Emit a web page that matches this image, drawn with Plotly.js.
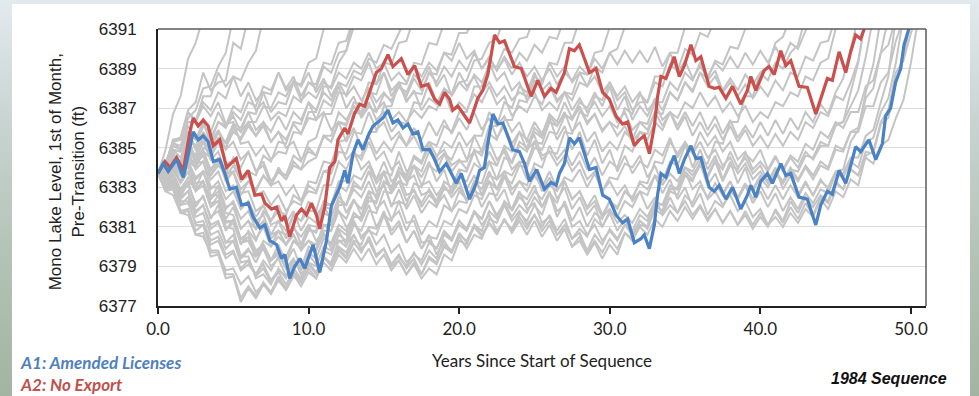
<!DOCTYPE html>
<html><head><meta charset="utf-8">
<script src="https://cdn.plot.ly/plotly-3.0.1.min.js"></script>
<style>
html,body{margin:0;padding:0;width:979px;height:396px;overflow:hidden;
background:linear-gradient(to bottom,#e3eaee 0%,#c9d4d2 30%,#b0c0b2 70%,#a3b4a2 100%);}
#card{position:absolute;left:12px;top:4px;width:958px;height:392px;background:#fff;}
#chart{position:absolute;left:0;top:0;width:958px;height:392px;}
</style></head>
<body><div id="card"><div id="chart"></div></div>
<script>
// ---- data ----
const grayYears = [0,0.5,1,1.5,2,2.5,3,3.5,4,4.5,5,5.5,6,6.5,7,7.5,8,8.5,9,9.5,10,10.5,11,11.5,12,12.5,13,13.5,14,14.5,15,15.5,16,16.5,17,17.5,18,18.5,19,19.5,20,20.5,21,21.5,22,22.5,23,23.5,24,24.5,25,25.5,26,26.5,27,27.5,28,28.5,29,29.5,30,30.5,31,31.5,32,32.5,33,33.5,34,34.5,35,35.5,36,36.5,37,37.5,38,38.5,39,39.5,40,40.5,41,41.5,42,42.5,43,43.5,44,44.5,45,45.5,46,46.5,47,47.5,48,48.5,49,49.5,50,50.5];

const g01 = [6383.7,6382.9,6383.0,6381.8,6381.9,6380.6,6380.7,6379.5,6379.6,6378.4,6378.5,6377.2,6377.9,6377.4,6378.1,6377.6,6378.3,6377.8,6378.5,6378.2,6379.2,6379.0,6380.0,6379.8,6380.9,6380.6,6381.7,6381.4,6382.5,6382.2,6383.3,6383.0,6384.0,6383.6,6384.6,6384.3,6385.3,6384.6,6384.9,6384.1,6384.4,6383.9,6384.9,6384.6,6385.7,6385.4,6386.4,6386.4,6387.4,6387.3,6388.4,6388.2,6389.3,6389.2,6390.3,6390.3,6391.5];
const g02 = [6383.7,6382.9,6383.1,6382.1,6382.2,6381.2,6381.3,6380.3,6380.5,6379.6,6379.8,6378.9,6379.3,6378.5,6378.9,6378.2,6378.7,6378.1,6378.7,6378.2,6378.9,6378.4,6379.2,6378.8,6379.6,6379.2,6379.9,6379.3,6379.9,6379.1,6379.6,6378.8,6379.3,6378.6,6379.2,6378.6,6379.4,6379.1,6380.0,6379.7,6380.7,6380.2,6381.0,6380.5,6381.2,6380.7,6381.4,6380.7,6381.3,6380.6,6381.3,6380.5,6381.1,6380.3,6380.9,6380.0,6380.5,6379.7,6380.3,6379.7,6380.4,6379.9,6380.7,6380.3,6381.0,6380.6,6381.4,6381.0,6381.8,6381.3,6382.0,6381.4,6382.0,6381.3,6381.9,6381.2,6381.8,6381.1,6381.8,6381.1,6381.7,6381.1,6381.8,6381.2,6382.0,6381.4,6382.2,6381.6,6382.5,6382.2,6383.2,6382.9,6383.9,6383.6,6384.8,6384.7,6386.2,6386.5,6388.3,6389.5,6391.5];
const g03 = [6383.7,6383.0,6383.2,6382.3,6382.3,6381.1,6381.1,6379.8,6379.8,6378.6,6378.6,6377.4,6378.0,6377.5,6378.2,6377.7,6378.5,6377.9,6378.6,6378.0,6378.7,6378.4,6379.4,6379.2,6380.3,6380.3,6381.5,6381.5,6382.8,6382.6,6383.8,6383.6,6384.8,6383.8,6384.1,6383.1,6383.3,6382.6,6383.1,6382.5,6383.0,6382.3,6382.8,6382.6,6383.6,6383.4,6384.5,6384.3,6385.3,6385.0,6386.0,6385.6,6386.7,6386.3,6387.3,6386.5,6387.0,6386.2,6386.7,6385.8,6386.3,6386.0,6387.0,6386.7,6387.7,6387.3,6388.3,6388.1,6389.2,6388.9,6390.0,6389.7,6390.8,6390.6,6391.5];
const g04 = [6383.7,6383.7,6384.6,6384.3,6385.3,6384.2,6384.3,6383.0,6383.0,6381.7,6381.6,6380.4,6380.3,6379.5,6379.9,6379.0,6379.4,6378.5,6378.9,6378.4,6379.2,6378.7,6379.5,6379.1,6380.0,6379.7,6380.6,6379.8,6380.3,6379.5,6379.9,6379.1,6379.6,6378.9,6379.4,6378.6,6379.5,6379.2,6380.1,6379.8,6380.6,6380.3,6381.1,6380.6,6381.2,6380.6,6381.4,6380.8,6381.5,6380.9,6381.6,6381.0,6381.6,6380.8,6381.4,6380.4,6380.7,6379.8,6380.6,6380.1,6380.9,6380.4,6381.1,6380.8,6381.6,6381.3,6382.1,6381.8,6382.9,6382.9,6383.8,6383.4,6384.1,6383.6,6384.4,6383.9,6384.8,6384.0,6384.5,6383.7,6384.1,6383.3,6383.8,6383.3,6384.0,6383.4,6384.1,6383.6,6384.3,6384.0,6385.1,6384.9,6385.8,6385.8,6387.1,6387.1,6388.3,6388.8,6390.4,6391.5];
const g05 = [6383.7,6384.9,6386.7,6387.6,6389.5,6390.3,6391.6];
const g06 = [6383.7,6384.2,6385.3,6385.5,6386.9,6387.3,6388.8,6387.9,6388.3,6388.4,6390.3,6390.0,6391.6];
const g07 = [6383.7,6384.0,6385.4,6385.4,6386.8,6386.3,6387.1,6386.6,6387.3,6386.2,6386.3,6385.2,6385.3,6384.6,6385.1,6384.4,6384.8,6384.7,6385.8,6385.7,6386.8,6386.8,6388.1,6388.1,6389.3,6389.9,6391.6];
const g08 = [6383.7,6383.5,6384.2,6383.6,6384.3,6383.2,6383.3,6382.2,6382.3,6381.2,6381.3,6380.2,6380.3,6379.6,6380.1,6379.3,6379.8,6379.5,6380.3,6379.9,6380.8,6380.8,6382.1,6382.1,6383.3,6383.3,6384.6,6384.6,6385.8,6385.8,6387.1,6387.1,6388.3,6388.2,6389.3,6389.2,6390.3,6390.2,6391.3,6391.6];
const g09 = [6383.7,6383.1,6383.4,6382.5,6382.8,6381.8,6382.1,6381.1,6381.3,6380.2,6380.3,6379.2,6379.3,6378.6,6379.1,6378.3,6378.8,6378.5,6379.3,6378.9,6379.8,6379.8,6381.1,6381.1,6382.3,6382.1,6383.1,6382.9,6383.8,6382.8,6383.1,6382.1,6382.3,6381.2,6381.3,6380.2,6380.3,6379.9,6380.7,6380.3,6381.1,6380.8,6381.7,6381.4,6382.3,6381.6,6382.2,6381.5,6382.1,6381.7,6382.5,6382.0,6382.8,6381.8,6382.1,6381.0,6381.3,6380.6,6381.1,6380.3,6380.8,6380.3,6381.1,6380.6,6381.3,6381.0,6382.1,6381.8,6382.8,6382.6,6383.6,6383.3,6384.3,6384.2,6385.3,6385.2,6386.3,6386.3,6387.6,6387.6,6388.8,6389.1,6390.3,6390.6,6391.6];
const g10 = [6383.7,6384.0,6385.3,6384.9,6385.8,6385.4,6386.3,6385.2,6385.3,6384.2,6384.3,6383.3,6383.6,6382.6,6382.8,6382.1,6382.6,6381.8,6382.3,6382.1,6383.1,6382.8,6383.8,6383.9,6385.3,6385.4,6386.8,6386.7,6387.8,6387.7,6388.8,6387.9,6388.3,6387.4,6387.8,6387.7,6388.8,6388.7,6389.8,6389.7,6390.8,6390.8,6391.6];
const g11 = [6383.7,6383.8,6384.9,6384.8,6385.8,6384.9,6385.3,6384.4,6384.8,6383.7,6383.8,6382.7,6382.8,6381.8,6382.1,6381.1,6381.3,6380.8,6381.6,6381.3,6381.8,6381.8,6383.1,6383.1,6384.3,6383.9,6384.8,6384.4,6385.3,6384.4,6384.8,6383.9,6384.3,6383.3,6383.6,6382.6,6382.8,6382.1,6382.6,6381.8,6382.3,6382.2,6383.3,6383.2,6384.3,6384.1,6385.1,6384.8,6385.8,6384.9,6385.3,6384.4,6384.8,6384.7,6385.8,6385.7,6386.8,6386.6,6387.6,6387.4,6388.3,6387.4,6387.8,6386.9,6387.3,6387.3,6388.6,6388.6,6389.8,6389.8,6391.1,6391.6];
const g12 = [6383.7,6383.8,6384.8,6384.0,6384.3,6383.5,6383.8,6382.6,6382.6,6381.3,6381.3,6380.4,6380.7,6379.8,6380.1,6379.3,6379.7,6378.9,6379.3,6378.8,6379.6,6379.1,6379.8,6379.6,6380.6,6380.3,6381.3,6380.5,6380.9,6380.1,6380.6,6379.7,6380.1,6379.2,6379.6,6379.3,6380.2,6379.9,6380.8,6380.4,6381.3,6380.9,6381.8,6381.1,6381.6,6380.8,6381.3,6380.9,6381.7,6381.3,6382.1,6381.6,6382.7,6382.2,6383.3,6382.4,6382.8,6381.9,6382.3,6381.5,6381.9,6381.2,6381.6,6381.2,6381.9,6381.5,6382.3,6382.1,6383.1,6382.9,6383.8,6382.9,6383.3,6382.4,6382.8,6382.1,6382.6,6381.8,6382.3,6381.5,6381.9,6381.1,6381.5,6381.0,6381.7,6381.2,6381.9,6381.5,6382.4,6381.9,6382.8,6382.5,6383.4,6383.1,6384.6,6384.8,6386.3,6386.9,6388.8,6389.4,6390.8,6391.9];
const g13 = [6383.7,6383.2,6383.6,6382.8,6383.3,6383.0,6383.8,6383.6,6384.3,6383.5,6384.1,6383.3,6383.8,6383.6,6384.6,6384.3,6385.3,6385.2,6386.3,6386.2,6387.3,6386.4,6386.8,6385.9,6386.3,6386.2,6387.3,6387.2,6388.3,6388.2,6389.3,6389.2,6390.3,6390.4,6391.6];
const g14 = [6383.7,6382.8,6382.9,6381.7,6381.8,6380.8,6381.1,6380.1,6380.3,6379.4,6379.7,6378.8,6379.1,6378.6,6379.3,6378.8,6379.5,6379.2,6380.3,6380.1,6381.1,6380.3,6380.7,6379.9,6380.3,6380.0,6381.1,6380.8,6381.8,6381.7,6382.8,6382.7,6383.8,6383.5,6384.5,6384.2,6385.1,6384.3,6384.7,6383.8,6384.3,6384.3,6385.6,6385.6,6386.8,6386.1,6386.6,6385.8,6386.3,6385.3,6385.6,6384.6,6384.8,6384.1,6384.6,6383.8,6384.3,6383.4,6383.8,6382.8,6383.3,6382.6,6383.1,6382.3,6382.8,6382.6,6383.6,6383.3,6384.3,6384.1,6385.1,6384.8,6385.8,6385.1,6385.6,6384.8,6385.3,6384.4,6384.8,6383.9,6384.3,6383.8,6384.5,6383.9,6384.6,6384.3,6385.2,6384.9,6385.8,6385.5,6386.3,6386.0,6386.8,6386.8,6388.1,6388.4,6389.8,6390.2,6391.6];
const g15 = [6383.7,6383.9,6385.2,6385.1,6386.3,6386.3,6387.6,6387.6,6388.8,6388.1,6388.6,6387.6,6388.3,6387.4,6387.8,6386.8,6387.3,6387.2,6388.3,6388.2,6389.3,6389.5,6391.0,6391.6];
const g16 = [6383.7,6383.6,6384.4,6384.1,6384.8,6384.4,6385.3,6384.9,6385.8,6384.9,6385.3,6384.4,6384.8,6383.8,6384.1,6383.1,6383.3,6382.6,6383.1,6382.3,6382.8,6382.7,6383.8,6383.7,6384.8,6384.7,6385.8,6385.7,6386.8,6385.9,6386.3,6385.4,6385.8,6385.1,6385.6,6384.8,6385.3,6385.1,6386.1,6385.8,6386.8,6386.8,6388.1,6388.1,6389.3,6388.4,6388.8,6387.9,6388.3,6387.4,6387.8,6386.9,6387.3,6386.9,6387.8,6387.4,6388.3,6388.1,6389.1,6388.8,6389.8,6390.0,6391.1,6391.6];
const g17 = [6383.7,6383.1,6383.6,6382.7,6383.1,6382.2,6382.5,6381.5,6381.8,6380.9,6381.2,6380.2,6380.5,6379.7,6380.1,6379.3,6379.6,6378.9,6379.4,6378.6,6379.1,6378.6,6379.5,6379.0,6379.8,6379.4,6380.2,6379.7,6380.5,6379.6,6379.9,6379.0,6379.3,6378.6,6379.1,6378.4,6378.9,6378.6,6379.6,6379.3,6380.3,6380.1,6381.1,6380.8,6381.8,6381.4,6382.3,6381.9,6382.8,6381.9,6382.2,6381.2,6381.5,6380.6,6380.9,6380.0,6380.3,6379.6,6380.2,6379.4,6380.1,6379.6,6380.7,6380.4,6381.3,6380.9,6381.9,6381.6,6382.5,6381.7,6382.3,6381.6,6382.1,6381.4,6381.9,6381.2,6381.8,6381.1,6381.6,6380.9,6381.5,6381.0,6381.9,6381.3,6382.3,6381.7,6382.5,6382.0,6382.6,6382.3,6383.3,6382.9,6383.9,6383.6,6384.5,6384.2,6385.1,6385.4,6386.5,6387.4,6389.3,6391.6];
const g18 = [6383.7,6383.7,6384.6,6384.3,6385.3,6385.1,6386.1,6385.8,6386.8,6386.1,6386.6,6385.8,6386.3,6385.6,6386.1,6385.3,6385.8,6385.0,6385.3,6384.4,6384.8,6384.6,6385.6,6385.3,6386.3,6386.1,6387.1,6386.8,6387.8,6386.9,6387.3,6386.4,6386.8,6386.3,6386.9,6386.5,6387.1,6386.9,6387.9,6387.7,6388.8,6388.1,6388.6,6387.8,6388.3,6387.6,6388.1,6387.4,6387.8,6387.6,6388.6,6388.3,6389.3,6388.6,6389.1,6388.3,6388.8,6388.1,6388.6,6387.8,6388.3,6387.6,6388.1,6387.3,6387.8,6386.9,6387.3,6386.4,6386.8,6386.5,6387.3,6387.0,6387.8,6387.1,6387.6,6386.8,6387.3,6386.6,6387.1,6386.3,6386.8,6386.5,6387.3,6387.1,6387.8,6387.6,6388.6,6388.4,6389.3,6389.5,6391.0,6391.6];
const g19 = [6383.7,6383.3,6383.9,6383.3,6383.8,6382.9,6383.3,6382.4,6382.8,6381.9,6382.3,6381.4,6381.8,6380.9,6381.3,6380.4,6380.8,6380.1,6380.6,6379.8,6380.3,6380.1,6381.1,6380.8,6381.8,6381.4,6382.3,6381.9,6382.8,6381.9,6382.3,6381.4,6381.8,6380.8,6381.6,6380.6,6381.3,6381.0,6382.1,6381.8,6382.8,6382.4,6383.3,6382.9,6383.8,6382.9,6383.6,6382.6,6383.3,6382.8,6383.6,6383.0,6383.8,6382.9,6383.3,6382.4,6382.8,6382.0,6382.6,6381.6,6382.3,6381.9,6382.8,6382.4,6383.3,6383.2,6384.3,6384.2,6385.3,6384.7,6385.3,6384.7,6385.3,6384.5,6384.9,6384.1,6384.5,6383.7,6384.2,6383.4,6383.8,6383.2,6383.8,6383.2,6383.8,6383.3,6384.0,6383.4,6384.1,6383.9,6384.9,6384.8,6385.8,6386.0,6387.5,6388.0,6389.8,6391.6];
const g20 = [6383.7,6383.5,6384.2,6383.6,6384.3,6383.4,6383.8,6382.9,6383.3,6382.4,6382.8,6381.9,6382.3,6381.5,6382.1,6381.3,6381.8,6381.6,6382.6,6382.3,6383.3,6383.2,6384.3,6384.2,6385.3,6384.4,6384.8,6383.9,6384.3,6383.4,6383.8,6382.9,6383.3,6383.1,6384.1,6383.8,6384.8,6384.5,6385.3,6385.0,6385.8,6385.1,6385.6,6384.8,6385.3,6384.4,6384.8,6383.9,6384.3,6384.2,6385.3,6385.2,6386.3,6386.1,6386.7,6386.4,6387.1,6386.3,6386.7,6385.9,6386.3,6385.6,6386.1,6385.3,6385.8,6385.7,6386.8,6386.7,6387.8,6387.4,6388.3,6387.9,6388.8,6388.1,6388.6,6387.8,6388.3,6387.6,6388.2,6387.5,6388.1,6387.6,6388.4,6387.9,6388.8,6388.6,6389.6,6389.4,6390.3,6390.4,6391.6];
const g21 = [6383.7,6384.1,6385.4,6385.5,6386.8,6386.4,6387.3,6386.9,6387.8,6387.5,6388.6,6388.4,6389.3,6389.9,6391.6];
const g22 = [6383.7,6383.6,6384.4,6384.1,6384.8,6384.6,6385.6,6385.3,6386.3,6386.1,6387.1,6386.8,6387.8,6386.9,6387.3,6386.4,6386.8,6386.6,6387.6,6387.3,6388.3,6388.2,6389.3,6389.2,6390.3,6390.4,6391.6];
const g23 = [6383.7,6383.0,6383.3,6382.1,6382.5,6381.5,6381.7,6380.6,6380.8,6379.9,6380.3,6379.4,6379.8,6379.5,6380.3,6380.0,6380.8,6380.6,6381.6,6381.3,6382.3,6381.6,6382.1,6381.3,6381.8,6381.0,6381.3,6380.4,6380.8,6380.6,6381.6,6381.3,6382.3,6382.1,6383.2,6383.0,6384.1,6383.8,6384.7,6384.4,6385.3,6384.4,6384.8,6383.9,6384.3,6383.4,6383.8,6382.9,6383.3,6383.1,6384.2,6384.0,6385.1,6384.4,6384.9,6384.1,6384.8,6383.9,6384.5,6383.6,6384.3,6384.0,6385.1,6384.8,6385.8,6385.4,6386.3,6385.9,6386.8,6385.9,6386.6,6385.6,6386.3,6385.6,6386.2,6385.4,6386.1,6385.3,6385.9,6385.1,6385.6,6385.0,6385.7,6385.1,6385.8,6385.4,6386.3,6386.0,6386.8,6386.6,6387.6,6387.4,6388.3,6389.4,6391.6];
const g24 = [6383.7,6383.8,6384.9,6384.8,6385.8,6385.0,6385.5,6384.6,6385.3,6385.0,6386.1,6385.8,6386.8,6386.7,6387.8,6387.7,6388.8,6388.0,6388.6,6387.6,6388.3,6388.0,6389.1,6388.8,6389.8,6389.9,6391.1,6391.6];
const g25 = [6383.7,6383.3,6383.9,6383.2,6383.8,6382.8,6383.1,6382.0,6382.3,6381.0,6380.9,6379.5,6379.5,6378.4,6378.6,6378.1,6378.9,6378.4,6379.1,6378.9,6380.0,6379.8,6380.8,6380.8,6382.1,6382.1,6383.3,6382.9,6383.8,6383.4,6384.3,6383.3,6383.6,6382.6,6382.8,6382.2,6382.9,6382.3,6382.9,6382.8,6383.9,6383.8,6384.8,6384.8,6386.1,6386.1,6387.3,6387.0,6388.1,6387.8,6388.8,6387.9,6388.3,6387.4,6387.8,6387.7,6388.8,6388.7,6389.8,6389.9,6391.1,6391.6];
const g26 = [6383.7,6383.6,6384.4,6384.1,6384.8,6383.9,6384.3,6383.4,6383.8,6382.8,6383.1,6381.9,6382.3,6381.3,6381.6,6380.6,6380.8,6380.1,6380.6,6379.9,6380.3,6379.8,6380.6,6380.1,6380.8,6380.1,6380.6,6379.9,6380.3,6379.5,6379.9,6379.1,6379.5,6379.0,6379.7,6379.1,6379.8,6379.4,6380.6,6380.3,6381.3,6380.9,6381.8,6381.4,6382.3,6381.5,6382.1,6381.3,6381.8,6381.1,6381.6,6380.8,6381.3,6380.6,6381.1,6380.4,6380.9,6380.5,6381.4,6381.0,6381.8,6381.5,6382.3,6382.0,6382.8,6381.9,6382.5,6381.6,6382.1,6381.7,6382.6,6382.2,6383.1,6382.5,6383.2,6382.6,6383.3,6382.5,6383.2,6382.4,6383.1,6382.4,6383.1,6382.4,6383.1,6382.5,6383.2,6382.6,6383.3,6383.0,6383.8,6383.9,6385.3,6385.9,6387.8,6389.2,6391.6];
const g27 = [6383.7,6384.1,6385.1,6384.9,6386.1,6385.4,6386.2,6385.5,6386.3,6386.0,6386.8,6386.4,6387.3,6387.1,6388.1,6387.9,6388.8,6387.9,6388.3,6387.4,6387.8,6387.5,6388.3,6388.0,6388.8,6388.5,6389.3,6389.0,6389.8,6389.0,6389.3,6388.4,6388.8,6388.3,6389.1,6388.6,6389.3,6388.9,6389.8,6389.4,6390.3,6389.5,6389.9,6389.0,6389.5,6388.9,6389.6,6389.0,6389.8,6389.4,6390.2,6389.8,6390.6,6390.5,6391.6];
const g28 = [6383.7,6383.7,6384.6,6384.1,6385.1,6384.6,6385.8,6385.2,6385.9,6385.2,6386.0,6385.4,6386.1,6385.6,6386.3,6385.8,6386.6,6385.9,6386.8,6386.4,6387.3,6386.9,6387.8,6387.4,6388.3,6387.6,6388.1,6387.4,6388.0,6387.3,6387.8,6387.3,6388.1,6387.6,6388.5,6387.9,6388.8,6388.3,6389.1,6388.6,6389.4,6388.9,6389.8,6389.0,6389.6,6388.9,6389.5,6388.7,6389.3,6388.6,6389.1,6388.4,6389.0,6388.2,6388.8,6388.4,6389.1,6388.7,6389.5,6389.0,6389.8,6389.2,6389.9,6389.3,6389.9,6389.3,6390.1,6389.1,6389.8,6388.8,6389.4,6388.5,6389.1,6388.6,6389.3,6388.9,6389.6,6389.0,6389.8,6389.2,6389.9,6389.3,6390.1,6389.4,6390.3,6390.0,6390.9,6391.6];
const g29 = [6383.7,6383.4,6384.2,6383.7,6384.5,6384.0,6384.8,6383.9,6384.5,6383.4,6383.8,6382.9,6383.3,6382.8,6383.6,6383.1,6384.0,6383.4,6384.3,6383.9,6385.0,6384.6,6385.6,6385.3,6386.3,6385.3,6386.0,6385.0,6385.6,6384.7,6385.3,6384.8,6385.6,6385.1,6386.0,6385.4,6386.3,6385.6,6386.4,6385.7,6386.5,6385.9,6386.8,6385.9,6386.5,6385.5,6386.1,6385.2,6385.8,6385.4,6386.3,6385.7,6386.6,6386.1,6386.8,6385.8,6386.3,6385.3,6385.8,6384.8,6385.3,6384.9,6385.8,6385.4,6386.3,6385.9,6386.8,6386.1,6386.8,6386.1,6386.8,6386.1,6386.8,6385.9,6386.6,6385.7,6386.4,6385.5,6386.1,6385.5,6386.3,6385.6,6386.4,6385.7,6386.5,6385.9,6386.8,6386.3,6387.2,6386.7,6387.8,6388.5,6390.0,6391.6];
const g30 = [6383.7,6384.0,6384.6,6384.2,6385.1,6384.2,6384.6,6383.6,6384.1,6383.7,6384.5,6384.0,6384.8,6383.8,6384.3,6383.3,6383.8,6383.4,6384.1,6383.9,6384.3,6384.5,6385.6,6385.6,6386.8,6386.4,6387.1,6386.6,6387.3,6386.4,6386.8,6385.8,6386.3,6386.2,6387.3,6387.2,6388.3,6387.3,6387.8,6386.8,6387.3,6386.9,6387.7,6387.3,6388.1,6387.2,6387.6,6386.6,6387.1,6386.8,6387.6,6387.2,6388.1,6387.3,6387.8,6386.9,6387.5,6386.8,6387.3,6386.6,6387.1,6386.3,6386.8,6385.9,6386.3,6386.2,6387.3,6387.3,6388.3,6387.9,6388.8,6388.4,6389.3,6388.4,6388.9,6387.9,6388.5,6387.9,6388.7,6388.2,6388.8,6388.4,6389.3,6389.0,6389.8,6390.2,6391.6];
const g31 = [6383.7,6383.2,6383.7,6382.9,6383.5,6382.8,6383.3,6382.4,6383.1,6382.0,6382.2,6380.9,6381.3,6380.9,6381.8,6381.3,6382.1,6381.2,6381.8,6380.8,6381.5,6381.2,6382.3,6382.1,6383.1,6382.8,6383.6,6383.4,6384.1,6383.2,6383.7,6382.7,6383.3,6382.3,6382.9,6382.0,6382.6,6382.3,6383.3,6383.0,6383.9,6382.9,6383.6,6382.6,6383.3,6382.3,6382.9,6381.8,6382.5,6382.1,6382.8,6382.4,6383.1,6382.8,6383.5,6383.3,6383.9,6383.0,6383.7,6382.8,6383.5,6383.4,6384.2,6384.0,6384.6,6383.5,6384.1,6383.1,6383.7,6383.3,6384.0,6383.6,6384.2,6383.1,6383.7,6382.7,6383.3,6382.4,6383.1,6382.2,6382.8,6382.0,6382.7,6381.8,6382.5,6381.9,6382.7,6382.2,6382.9,6382.7,6383.7,6383.7,6384.5,6384.5,6385.6,6385.9,6387.3,6388.6,6391.6];
const g32 = [6383.7,6383.0,6383.4,6382.4,6382.8,6381.7,6382.1,6380.9,6381.2,6380.2,6380.6,6379.5,6379.9,6379.2,6380.0,6379.3,6380.1,6379.2,6379.9,6378.9,6379.7,6379.4,6380.4,6380.2,6381.1,6380.8,6381.7,6381.3,6382.1,6381.0,6381.6,6380.6,6381.1,6380.2,6380.8,6379.9,6380.5,6380.4,6381.3,6381.1,6381.9,6381.7,6382.6,6382.4,6383.3,6382.9,6383.8,6383.6,6384.3,6383.4,6384.0,6382.8,6383.5,6382.4,6383.0,6381.9,6382.5,6381.6,6382.1,6381.0,6381.7,6380.8,6381.4,6380.5,6381.1,6381.0,6382.2,6382.1,6382.9,6383.0,6384.0,6383.8,6384.5,6383.5,6384.3,6383.3,6384.1,6383.9,6384.7,6384.3,6384.9,6383.9,6384.6,6383.8,6384.5,6384.0,6384.8,6384.4,6385.1,6385.1,6386.2,6386.3,6387.1,6387.9,6389.6,6391.6];
const g33 = [6383.7,6384.0,6384.9,6384.5,6385.5,6384.4,6384.9,6383.8,6384.5,6383.3,6383.8,6382.6,6383.3,6382.9,6383.6,6383.1,6383.8,6383.6,6384.6,6384.3,6385.3,6385.5,6386.7,6386.7,6387.8,6387.7,6388.6,6388.4,6389.3,6388.2,6388.8,6387.6,6388.3,6387.3,6387.9,6386.9,6387.5,6387.2,6388.0,6387.7,6388.3,6388.4,6389.4,6389.5,6390.3,6390.5,6391.6];
const g34 = [6383.7,6383.3,6384.1,6383.3,6384.1,6382.9,6383.3,6382.0,6382.6,6381.4,6382.0,6380.9,6381.3,6380.4,6381.0,6380.0,6380.5,6380.1,6380.9,6380.5,6381.1,6381.0,6382.0,6381.9,6382.8,6381.7,6382.4,6381.6,6382.3,6382.3,6383.3,6383.0,6383.8,6383.3,6384.1,6383.5,6384.3,6383.3,6383.9,6382.7,6383.3,6382.3,6383.0,6382.0,6382.7,6382.6,6383.5,6383.2,6384.1,6384.0,6385.0,6384.9,6385.8,6385.7,6386.6,6386.5,6387.3,6387.0,6387.8,6387.1,6388.1,6386.9,6387.6,6386.4,6387.1,6386.6,6387.5,6386.9,6387.8,6387.4,6388.3,6387.8,6388.8,6388.5,6389.4,6389.2,6390.1,6390.0,6391.0,6391.6];
const g35 = [6383.7,6382.8,6382.6,6381.7,6381.6,6380.6,6380.5,6379.7,6379.7,6378.8,6378.9,6378.1,6378.5,6377.7,6378.1,6377.7,6378.4,6377.9,6378.7,6378.3,6379.1,6378.7,6379.5,6379.1,6379.9,6379.5,6380.3,6380.1,6381.0,6380.9,6381.8,6380.8,6381.3,6380.2,6380.8,6379.9,6380.6,6379.6,6380.3,6379.7,6380.5,6379.9,6380.6,6380.4,6381.4,6381.2,6382.1,6381.9,6382.7,6382.4,6383.1,6382.0,6382.7,6381.5,6382.3,6381.3,6382.0,6381.0,6381.7,6381.4,6382.3,6382.0,6382.8,6382.5,6383.2,6382.9,6383.6,6382.7,6383.4,6382.4,6383.0,6382.0,6382.7,6381.6,6382.3,6382.0,6382.8,6382.4,6383.1,6382.9,6383.6,6383.3,6384.0,6382.9,6383.6,6382.6,6383.3,6382.6,6383.4,6382.9,6383.7,6383.5,6384.3,6384.0,6385.3,6385.5,6386.8,6387.5,6389.3,6391.6];
const g36 = [6383.7,6384.2,6385.3,6385.4,6386.5,6386.9,6388.0,6388.1,6389.1,6389.8,6391.6];
const g37 = [6383.7,6383.6,6384.3,6383.8,6384.5,6384.2,6385.0,6384.8,6385.5,6385.3,6386.2,6386.0,6386.8,6385.9,6386.3,6385.3,6385.8,6385.4,6386.2,6385.7,6386.5,6386.4,6387.4,6387.1,6388.1,6387.0,6387.6,6386.5,6387.1,6386.8,6387.7,6387.4,6388.1,6387.8,6388.7,6388.3,6389.1,6388.1,6388.7,6387.6,6388.3,6387.9,6388.7,6388.3,6389.1,6389.1,6390.0,6389.8,6390.5,6390.6,6391.6];
const g38 = [6383.7,6383.1,6383.6,6382.5,6383.3,6382.0,6382.6,6381.4,6382.1,6380.8,6381.4,6380.1,6380.8,6380.3,6381.2,6380.6,6381.3,6380.4,6381.1,6380.1,6380.9,6380.7,6381.7,6381.5,6382.5,6382.1,6382.9,6382.5,6383.3,6382.4,6383.2,6382.0,6382.9,6381.9,6382.6,6381.7,6382.3,6382.0,6383.0,6382.7,6383.5,6383.3,6384.2,6383.9,6384.8,6384.1,6385.0,6384.2,6385.1,6384.8,6385.8,6385.5,6386.5,6385.4,6386.1,6384.9,6385.8,6384.6,6385.4,6384.2,6384.9,6383.8,6384.6,6383.7,6384.3,6384.0,6384.9,6384.6,6385.5,6384.5,6385.2,6384.0,6384.9,6383.9,6384.6,6383.4,6384.3,6383.2,6384.0,6382.8,6383.5,6383.0,6383.7,6383.2,6383.9,6383.8,6384.6,6384.5,6385.3,6385.1,6386.1,6386.3,6387.8,6389.3,6391.6];
const g39 = [6383.7,6383.5,6384.2,6383.7,6384.3,6384.0,6384.8,6384.5,6385.3,6385.0,6385.8,6385.5,6386.3,6386.3,6387.1,6387.0,6387.8,6387.6,6388.4,6388.1,6388.8,6387.8,6388.5,6387.6,6388.3,6388.1,6388.9,6388.7,6389.5,6389.3,6390.2,6390.0,6390.8,6391.6];
const graySeries = [g01,g02,g03,g04,g05,g06,g07,g08,g09,g10,g11,g12,g13,g14,g15,g16,g17,g18,g19,g20,g21,g22,g23,g24,g25,g26,g27,g28,g29,g30,g31,g32,g33,g34,g35,g36,g37,g38,g39];

const a1Years = [0,0.35,0.68,1.24,1.68,2.12,2.34,2.67,3.0,3.33,3.67,4.1,4.44,4.77,5.2,5.55,5.99,6.32,6.76,7.1,7.43,7.87,8.2,8.42,8.75,9.08,9.42,9.75,10.08,10.3,10.74,11.19,11.52,11.85,12.07,12.4,12.62,12.95,13.28,13.61,13.95,14.28,14.61,14.94,15.27,15.6,15.93,16.27,16.6,16.93,17.26,17.6,18.04,18.37,18.7,19.14,19.48,19.81,20.14,20.69,21.13,21.35,21.68,21.9,22.24,22.57,22.9,23.23,23.56,24.0,24.34,24.67,25.15,25.66,26.1,26.44,26.66,26.99,27.32,27.65,27.98,28.32,28.65,29.09,29.53,29.97,30.42,30.85,31.19,31.63,32.07,32.29,32.63,32.96,33.18,33.4,33.73,34.06,34.28,34.62,34.95,35.39,35.72,36.05,36.6,36.94,37.27,37.71,38.15,38.7,39.14,39.37,39.7,40.03,40.47,40.8,41.36,41.69,42.02,42.57,43.12,43.68,44.01,44.45,44.78,45.23,45.67,46.0,46.33,46.66,47.21,47.66,48.1,48.32,48.65,48.98,49.32,49.54,49.87,50.1];
const a1Level = [6383.7,6384.2,6383.8,6384.4,6383.5,6385.05,6385.8,6385.4,6385.6,6385.3,6384.3,6384.4,6383.7,6382.9,6383.0,6382.1,6382.2,6381.5,6380.95,6381.1,6380.3,6380.1,6379.4,6379.6,6378.4,6379.0,6379.4,6378.9,6379.6,6380.1,6378.7,6380.3,6382.1,6382.6,6383.0,6383.85,6383.2,6384.7,6385.4,6384.9,6385.6,6386.1,6386.3,6386.5,6386.9,6386.25,6386.4,6386.0,6386.2,6385.7,6385.8,6384.9,6384.9,6384.4,6383.8,6384.2,6383.7,6383.2,6383.7,6382.4,6383.2,6383.85,6384.0,6385.2,6386.7,6386.2,6386.25,6385.6,6384.9,6384.8,6384.2,6383.3,6383.9,6382.9,6383.25,6383.1,6383.7,6384.2,6385.5,6385.2,6385.5,6384.7,6383.9,6384.0,6382.6,6382.4,6381.6,6381.2,6381.4,6380.2,6380.4,6380.6,6379.9,6381.1,6382.65,6383.7,6383.5,6384.2,6384.6,6383.7,6384.4,6385.1,6384.45,6384.5,6383.0,6382.8,6383.1,6382.4,6383.0,6381.9,6382.6,6383.1,6382.5,6383.3,6383.7,6383.2,6384.2,6383.6,6383.7,6382.5,6382.4,6381.1,6382.1,6382.8,6382.65,6383.85,6383.2,6384.1,6385.05,6384.8,6385.4,6384.4,6385.2,6386.6,6387.0,6388.3,6389.0,6390.2,6391.0,6391.6];

const a2Years = [0,0.46,0.8,1.24,1.68,2.12,2.34,2.67,3.0,3.33,3.67,4.1,4.55,5.2,5.55,5.99,6.43,6.88,7.1,7.54,7.87,8.2,8.42,8.75,9.2,9.53,9.86,10.19,10.52,10.74,11.07,11.4,11.74,11.95,12.4,12.62,13.06,13.4,13.73,14.06,14.5,14.83,15.27,15.6,16.16,16.6,17.04,17.49,17.92,18.37,18.7,19.03,19.36,19.58,19.92,20.69,21.24,21.57,21.9,22.35,22.68,23.01,23.34,23.67,24.12,24.45,24.78,25.22,25.66,26.1,26.44,26.99,27.32,27.65,27.98,28.32,28.65,29.09,29.53,29.97,30.42,30.85,31.19,31.63,31.96,32.29,32.63,32.96,33.18,33.4,33.73,34.06,34.28,34.62,34.95,35.39,35.72,36.05,36.6,36.94,37.27,37.71,38.15,38.7,39.14,39.37,39.7,40.25,40.58,40.92,41.36,41.69,42.02,42.57,43.12,43.68,44.01,44.45,44.78,45.23,45.67,46.0,46.33,46.66,46.99,47.2];
const a2Level = [6383.7,6384.3,6384.0,6384.5,6383.85,6385.8,6386.5,6386.1,6386.4,6386.1,6385.1,6385.4,6384.0,6384.45,6383.4,6383.85,6382.6,6382.65,6382.2,6381.9,6382.0,6381.3,6381.55,6380.5,6381.6,6381.9,6381.6,6382.2,6381.6,6380.9,6382.0,6384.0,6384.3,6385.4,6386.0,6385.7,6386.75,6387.2,6387.1,6387.8,6388.8,6389.0,6389.7,6389.1,6389.5,6388.7,6389.15,6388.1,6388.2,6387.45,6387.2,6387.8,6387.45,6386.9,6387.1,6386.25,6387.5,6387.9,6388.7,6390.7,6390.3,6390.4,6389.7,6389.1,6389.0,6388.3,6387.6,6388.4,6387.6,6388.0,6387.8,6388.8,6390.0,6389.9,6390.2,6389.5,6388.8,6389.0,6387.8,6387.45,6386.6,6386.2,6386.3,6385.1,6385.4,6385.6,6384.7,6386.1,6387.6,6388.6,6388.5,6389.15,6389.6,6388.6,6389.15,6390.2,6389.4,6389.6,6388.1,6388.0,6388.05,6387.5,6388.1,6387.2,6387.9,6388.6,6387.9,6388.9,6389.1,6388.7,6389.9,6389.15,6389.4,6388.1,6388.05,6386.7,6387.5,6388.5,6388.4,6389.85,6388.8,6389.85,6390.7,6390.5,6391.2,6391.6];

const xTicks = [0,10,20,30,40,50];
const yTicks = [6377,6379,6381,6383,6385,6387,6389,6391];
const labelA1 = 'A1: Amended Licenses';
const labelA2 = 'A2: No Export';
const sequenceLabel = '1984 Sequence';
const xTitle = 'Years Since Start of Sequence';
const yTitle = 'Mono Lake Level, 1st of Month,<br>Pre-Transition (ft)';

// ---- traces ----
const traces = graySeries.map(s => ({
  type:'scatter', mode:'lines', x: grayYears.slice(0, s.length), y: s,
  line:{color:'#c4c4c4', width:2}, hoverinfo:'skip', showlegend:false
}));
traces.push({type:'scatter', mode:'lines', x:a2Years, y:a2Level, name:labelA2,
  line:{color:'#c9504c', width:3.2}, showlegend:false});
traces.push({type:'scatter', mode:'lines', x:a1Years, y:a1Level, name:labelA1,
  line:{color:'#4a82c4', width:3.2}, showlegend:false});

const layout = {
  width:958, height:392,
  margin:{l:146, r:44, t:25, b:90},
  paper_bgcolor:'#ffffff', plot_bgcolor:'#ffffff',
  showlegend:false,
  xaxis:{range:[0,51], tickvals:xTicks, tickformat:'.1f', ticks:'outside', ticklen:6, tickwidth:2,
    tickcolor:'#222', showgrid:false, zeroline:false, showline:true, linecolor:'#222', linewidth:2, mirror:false,
    tickfont:{family:'Lato, sans-serif', size:17, color:'#222'}, ticklabelstandoff:1,
    title:{text:xTitle, font:{family:'Lato, sans-serif', size:17, color:'#222'}, standoff:17}},
  yaxis:{range:[6377,6391], tickvals:yTicks, ticks:'', showgrid:true, gridcolor:'#dcdcdc', gridwidth:1,
    zeroline:false, showline:true, linecolor:'#222', linewidth:2, mirror:false,
    tickfont:{family:'Liberation Sans, Arial, sans-serif', size:17, color:'#222'}, ticklabelstandoff:16},
  shapes:[
    {type:'line', xref:'paper', yref:'paper', x0:0, x1:1, y0:1, y1:1, line:{color:'#5a5a5a', width:1.5}},
    {type:'line', xref:'paper', yref:'paper', x0:1, x1:1, y0:0, y1:1, line:{color:'#5a5a5a', width:1.5}}
  ],
  annotations:[
    {xref:'paper', yref:'paper', x:-0.118, y:0.484, xanchor:'center', yanchor:'middle', textangle:-90,
     text:yTitle, showarrow:false, font:{family:'Liberation Sans, Arial, sans-serif', size:17, color:'#222'}},
    {xref:'paper', yref:'paper', x:-0.182, y:-0.204, xanchor:'left', yanchor:'middle', text:'<b><i>'+labelA1+'</i></b>',
     showarrow:false, font:{family:'Lato, sans-serif', size:17, color:'#4f81bd'}},
    {xref:'paper', yref:'paper', x:-0.182, y:-0.282, xanchor:'left', yanchor:'middle', text:'<b><i>'+labelA2+'</i></b>',
     showarrow:false, font:{family:'Lato, sans-serif', size:17, color:'#c0504d'}},
    {xref:'paper', yref:'paper', x:1.03, y:-0.26, xanchor:'right', yanchor:'middle', text:'<b><i>'+sequenceLabel+'</i></b>',
     showarrow:false, font:{family:'Liberation Sans, Arial, sans-serif', size:16, color:'#111'}}
  ]
};
Plotly.newPlot('chart', traces, layout, {staticPlot:true, displayModeBar:false});
</script></body></html>
